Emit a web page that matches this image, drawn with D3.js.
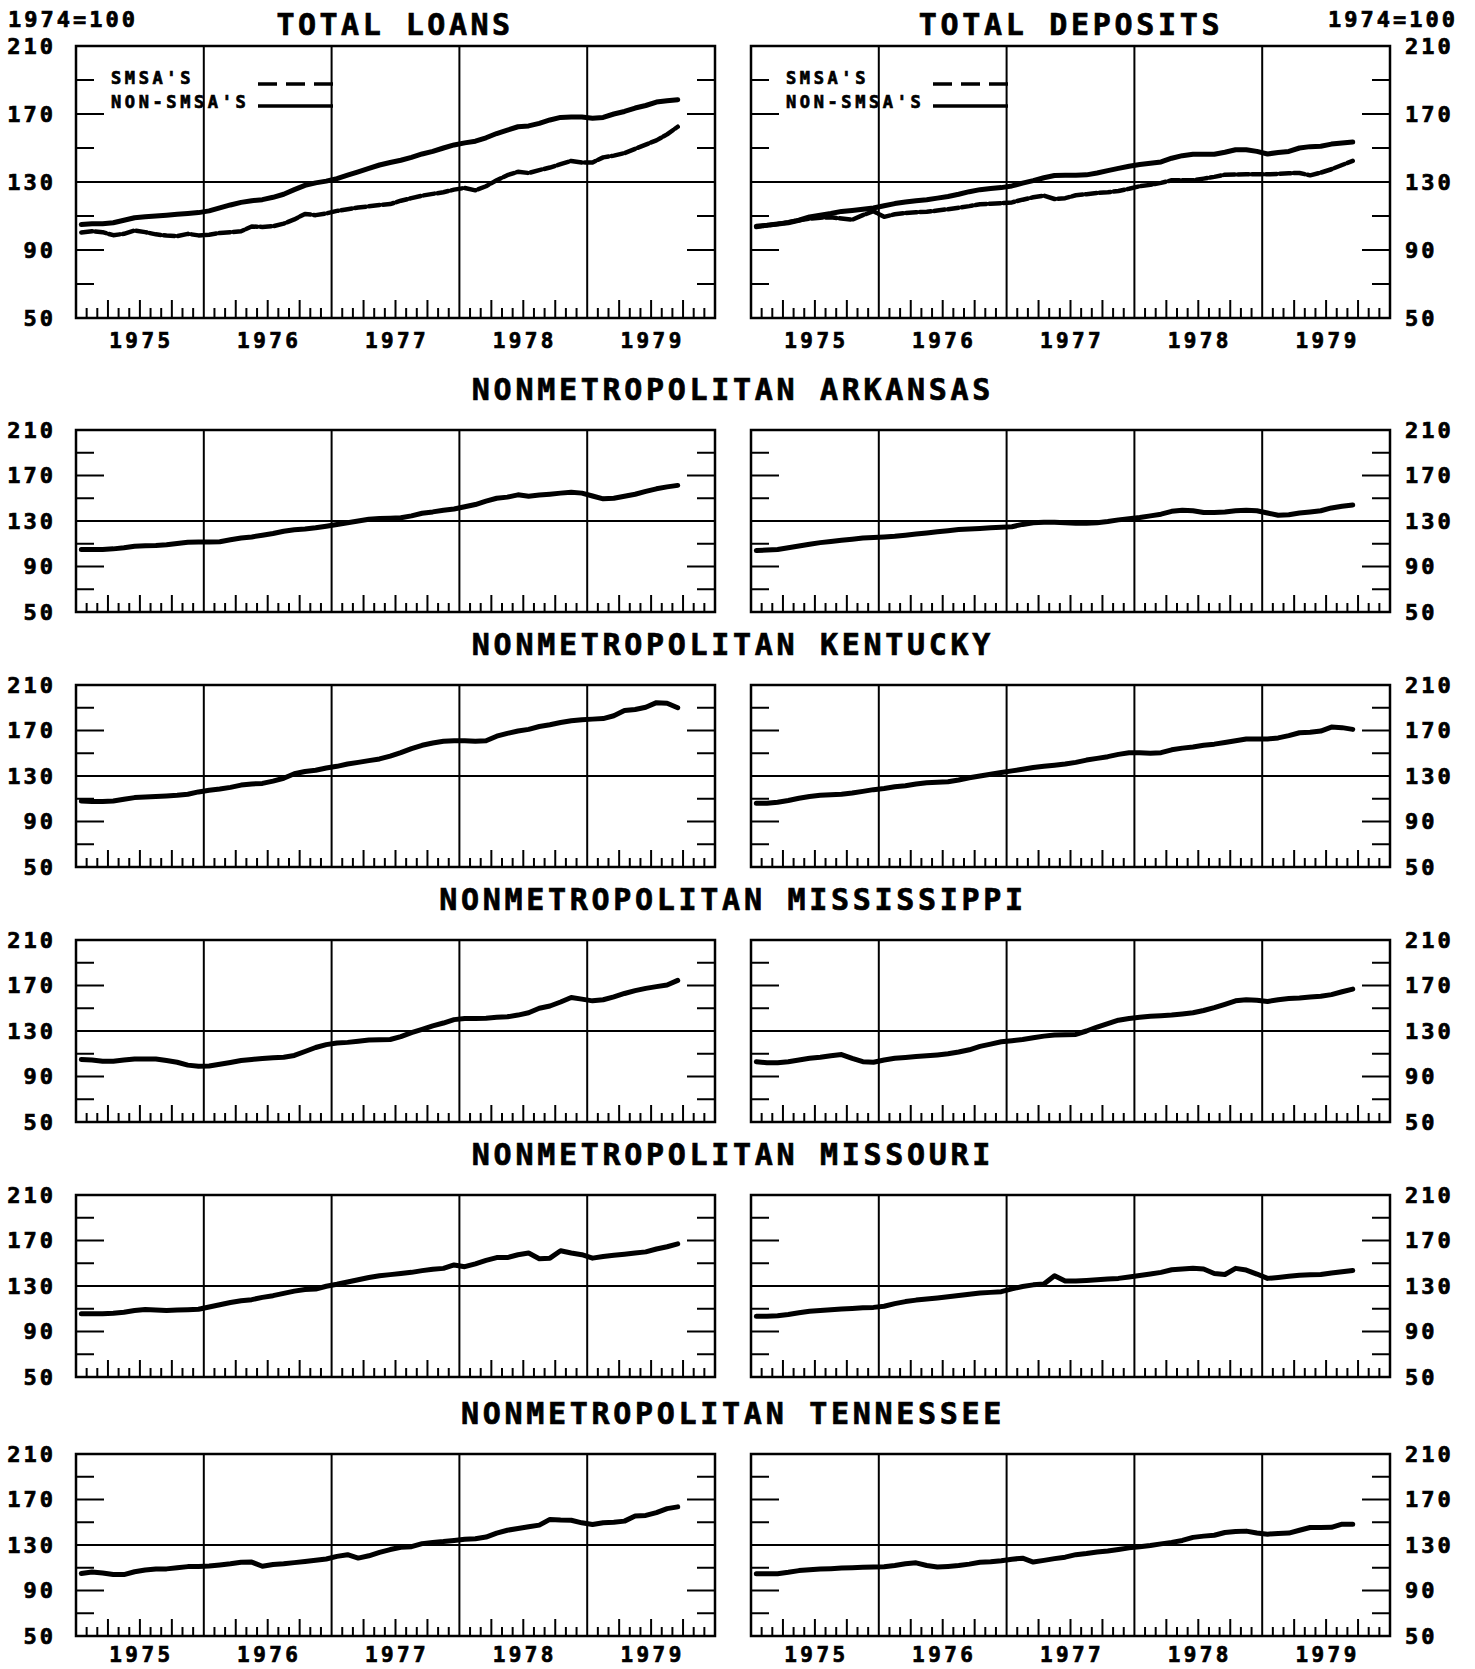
<!DOCTYPE html>
<html>
<head>
<meta charset="utf-8">
<script src="https://cdn.jsdelivr.net/npm/d3@7"></script>
<style>
  body { margin: 0; background: #fff; }
  svg text { font-family: "DejaVu Sans Mono", "Liberation Mono", monospace; font-weight: bold; fill: #000; stroke: #000; stroke-width: 0.7px; }
</style>
</head>
<body>
<svg id="chart" width="1475" height="1669"></svg>
<script>
// ---------------- DATA ----------------
const startYear = 1975;
const years = ["1975", "1976", "1977", "1978", "1979"];
const yTicks = [70, 90, 110, 150, 170, 190];
const yLabels = [50, 90, 130, 170, 210];
const yLongTicks = [90, 170];
const baseLabel = "1974=100";
const topTitles = ["TOTAL LOANS", "TOTAL DEPOSITS"];
const stateTitles = ["NONMETROPOLITAN ARKANSAS", "NONMETROPOLITAN KENTUCKY",
  "NONMETROPOLITAN MISSISSIPPI", "NONMETROPOLITAN MISSOURI", "NONMETROPOLITAN TENNESSEE"];
const legendLabels = ["SMSA'S", "NON-SMSA'S"];

// monthly index values, Jan 1975 - Sep 1979
const loansSMSA = [100.3,101,100.5,98.7,99.5,101.5,100.5,99.2,98.5,98.2,99.5,98.6,
  99,100,100.5,101,103.8,103.6,104,105.5,108,111.2,110.5,111.5,
  113,114,115,115.7,116.5,117,119,120.5,122,123,124,125.5,
  126.5,125.1,127.5,131,134,136,135.3,137,138.5,140.5,142.4,141.5,
  141.5,144.5,145.5,147,149.5,152,154.5,158,162.5];
const loansNonSMSA = [105,105.5,105.5,106,107.5,109,109.5,110,110.5,111,111.5,112,
  113,114.8,116.5,118,119,119.6,121,122.8,125.5,128,129.5,130.5,
  132,134,136,138,140,141.5,142.8,144.5,146.5,148,150,151.8,
  153,154,156,158.5,160.5,162.5,163,164.5,166.5,168,168.2,168.2,
  167.5,168,170,171.5,173.5,175,177,177.8,178.4];
const depositsSMSA = [103.5,104.5,105.3,106.3,107.5,108.4,109,109.3,108.5,107.8,110.5,112.8,
  109.5,111,111.8,112.2,112.5,113.2,114,114.9,115.8,116.9,117.2,117.5,
  118,119.6,121,122,120,120.5,122.2,122.8,123.5,124,124.7,126,
  127.5,128.3,129.5,131,131,131,132,133,134.3,134.4,134.5,134.5,
  134.5,134.8,135.2,135.3,133.9,135.5,137.5,140,142.4];
const depositsNonSMSA = [104,104.5,105.3,106,107.5,109.5,110.5,111.5,112.7,113.3,114,114.7,
  116,117.3,118.2,119,119.6,120.5,121.5,122.8,124.3,125.5,126.2,126.7,
  127.7,129.3,130.8,132.5,133.8,133.9,133.9,134.2,135.3,136.7,138,139.3,
  140.3,141,141.8,144,145.5,146.3,146.3,146.3,147.5,149,149,148,
  146.5,147.3,148,150,150.8,151,152.3,153,153.5];
const arLoans = [105,105,105,105.5,106.5,107.8,108.2,108.5,109.2,110.3,111.3,111.5,
  111.5,111.8,113.5,115,116,117.4,119,121,122.3,123,124,125.4,
  127,128.5,130,131.6,132.3,132.5,132.8,134.5,136.8,138,139.5,140.5,
  142.5,144.5,147.5,150,151,153,151.8,152.8,153.6,154.5,155.3,154.5,
  152,149.5,150,151.8,153.5,156,158.3,160,161.3];
const arDeposits = [104,104.5,105,106.5,108,109.5,111,112,113,114,115,115.5,
  116,116.5,117.5,118.5,119.5,120.5,121.5,122.5,123,123.5,124,124.5,
  125,127,128.5,129,129,128.5,128,128,128.5,129.5,131,132,
  133,134.5,136,138.5,139.5,139,137.5,137.5,138,139,139.5,139,
  137,135,135.5,137,138,139,141.5,143,144];
const kyLoans = [108,107.5,107.5,108,109.5,111,111.5,112,112.5,113,114,116,
  117.5,118.5,120,122,123,123.5,125.5,128,132,134,135,137,
  138.5,140.5,142,143.5,145,147.5,150.5,154,157,159,160.5,161,
  161,160.5,161,165,167.5,169.5,171,173.5,175,177,178.5,179.5,
  180,180.5,183,187.5,188.5,190.5,194.5,194,190];
const kyDeposits = [106,106,107,108.5,110.5,112,113,113.5,114,115,116.5,118,
  119,120.5,121.5,123,124,124.5,125,126.5,128.5,130,131.5,133,
  134.5,136,137.5,138.5,139.5,140.5,142,144,145.5,147,149,150.5,
  150.5,150,150.5,153,154.5,155.5,157,158,159.5,161,162.5,162.5,
  162.5,163.5,165.5,168,168.5,169.5,173,172.5,171];
const msLoans = [105,104.5,103.5,103.5,104.5,105.3,105.3,105.3,104,102.5,100,99,
  99.3,100.8,102.3,104,105,105.8,106.5,107,108.5,112,115.5,118,
  119.5,120,121,122,122.3,122.5,125,128.5,131.5,134.5,137,140,
  141,141,141.3,142,142.5,144,146,150,152,155.5,159.5,158,
  156.5,157.5,160,163,165.5,167.5,169,170.5,174.5];
const msDeposits = [103,102,102,103,104.5,106,107,108.3,109.3,106,103,102.5,
  104.5,106,106.8,107.5,108.2,109,110,111.5,113.5,116.5,118.5,120.5,
  121.5,122.5,124,125.5,126.5,126.8,127,130,133.5,136.5,139.5,141,
  142,143,143.5,144,145,146,148,150.5,153.5,156.5,157.5,157,
  156,157.5,158.5,159,159.8,160.5,162,164.5,166.8];
const moLoans = [105.5,105.5,105.5,106,107,108.5,109.3,109,108.5,108.8,109.2,109.5,
  111.5,113.5,115.5,117,118,120,121.5,123.5,125.5,127,127.3,129.8,
  131.5,133.5,135.5,137.5,139,140,141,142,143.5,144.8,145.5,148.5,
  147,149.5,152.5,155,155,157.5,159,154,154.5,161,159,157.5,
  154.5,156,157,158,159,160,162.5,164.5,167];
const moDeposits = [103.3,103.5,103.8,105,106.5,107.8,108.5,109.2,109.8,110.3,110.8,111.2,
  112.2,114.5,116.3,117.6,118.5,119.5,120.5,121.6,122.8,123.8,124.4,125,
  127.5,129.5,131,131.8,139,134.3,134.5,134.9,135.5,136.2,136.7,138,
  139.2,140.5,142,144.3,145,145.5,145,141,140.1,145.5,144,140.5,
  136.7,137.5,138.5,139.5,139.8,140.1,141.5,142.5,143.6];
const tnLoans = [105,106.3,105.3,104,104,106.5,108,108.8,109,110,111,111,
  111.5,112.5,113.5,114.8,115,111.3,112.8,113.5,114.5,115.5,116.5,117.7,
  120,121.5,118.5,120.5,123.5,126,128,128.5,131.2,132.3,133,134,
  135,135.5,137,140.5,143,144.5,146,147.5,152.5,152,151.8,149.5,
  148,149.5,150,151,155.4,156,158.5,162,163.5];
const tnDeposits = [104.8,104.8,104.8,106,107.5,108.2,108.8,109.2,109.7,110.1,110.4,110.6,
  110.8,112,113.5,114.3,112,110.6,111.2,112,113.2,114.9,115.3,116.2,
  117.5,118.4,115,116.5,118,119.3,121.5,122.5,123.8,124.7,126,127.5,
  128.5,129.6,131,132.3,134,136.7,137.8,138.6,141,141.8,142.2,140.5,
  139.5,140.2,140.5,143,145.4,145.4,145.5,148.3,148.3];

// ---------------- LAYOUT ----------------
const svg = d3.select("#chart");
const panelW = 639;
const colX0 = [76, 751];
const rowTop = [46, 430, 685, 940, 1195, 1454];
const rowH = [272, 182, 182, 182, 182, 182];

const rows = [
  { title: null, series: [
      [{ v: loansSMSA, dashed: true }, { v: loansNonSMSA }],
      [{ v: depositsSMSA, dashed: true }, { v: depositsNonSMSA }] ] },
  { title: stateTitles[0], series: [[{ v: arLoans }], [{ v: arDeposits }]] },
  { title: stateTitles[1], series: [[{ v: kyLoans }], [{ v: kyDeposits }]] },
  { title: stateTitles[2], series: [[{ v: msLoans }], [{ v: msDeposits }]] },
  { title: stateTitles[3], series: [[{ v: moLoans }], [{ v: moDeposits }]] },
  { title: stateTitles[4], series: [[{ v: tnLoans }], [{ v: tnDeposits }]] }
];

const monthPos = i => startYear + (i + 0.5) / 12;

function drawPanel(r, c) {
  const x0 = colX0[c], top = rowTop[r], h = rowH[r];
  const x = d3.scaleLinear().domain([startYear, startYear + 5]).range([x0, x0 + panelW]);
  const y = d3.scaleLinear().domain([50, 210]).range([top + h, top]);
  const g = svg.append("g");
  const big = r === 0;

  // year gridlines
  g.selectAll("line.yr").data(d3.range(1, 5)).join("line")
    .attr("x1", d => x(startYear + d)).attr("x2", d => x(startYear + d))
    .attr("y1", y(210)).attr("y2", y(50))
    .attr("stroke", "#000").attr("stroke-width", 2);
  // 130 line
  g.append("line").attr("x1", x.range()[0]).attr("x2", x.range()[1])
    .attr("y1", y(130)).attr("y2", y(130)).attr("stroke", "#000").attr("stroke-width", 2);
  // month ticks
  const months = d3.range(1, 60).filter(k => k % 12 !== 0);
  g.selectAll("line.mt").data(months).join("line")
    .attr("x1", k => x(startYear + k / 12)).attr("x2", k => x(startYear + k / 12))
    .attr("y1", y(50)).attr("y2", k => y(50) - (k % 3 === 0 ? (big ? 18 : 17) : (big ? 10 : 9)))
    .attr("stroke", "#000").attr("stroke-width", 2);
  // side ticks (both sides, inward)
  [0, 1].forEach(side => {
    const edge = side === 0 ? x.range()[0] : x.range()[1];
    const dir = side === 0 ? 1 : -1;
    g.selectAll("line.st" + side).data(yTicks).join("line")
      .attr("x1", edge).attr("x2", v => edge + dir * (yLongTicks.includes(v) ? 28 : 18))
      .attr("y1", v => y(v)).attr("y2", v => y(v))
      .attr("stroke", "#000").attr("stroke-width", 2);
  });
  // box
  g.append("rect").attr("x", x0).attr("y", top).attr("width", panelW).attr("height", h)
    .attr("fill", "none").attr("stroke", "#000").attr("stroke-width", 2.5);

  // y labels
  g.selectAll("text.yl").data(yLabels).join("text")
    .attr("x", c === 0 ? x0 - 20 : x0 + panelW + 15)
    .attr("y", v => y(v)).attr("dy", "0.36em")
    .attr("text-anchor", c === 0 ? "end" : "start")
    .style("font-size", "22px").style("letter-spacing", "3px")
    .text(d => d);

  // year labels
  if (r === 0 || r === rows.length - 1) {
    g.selectAll("text.xl").data(years).join("text")
      .attr("x", (d, i) => x(startYear + i + 0.5) + 1.5)
      .attr("y", r === 0 ? y(50) + 30 : y(50) + 26)
      .attr("text-anchor", "middle")
      .style("font-size", "21px").style("letter-spacing", "3.4px")
      .text(d => d);
  }

  // data lines
  const line = d3.line().x((d, i) => x(monthPos(i))).y(d => y(d));
  rows[r].series[c].forEach(s => {
    g.append("path").datum(s.v).attr("d", line)
      .attr("fill", "none").attr("stroke", "#000")
      .attr("stroke-width", s.dashed ? 4.5 : 5)
      .attr("stroke-linejoin", "round").attr("stroke-linecap", "round")
      .attr("stroke-dasharray", s.dashed ? "11,3" : null);
  });

  // legend in top panels
  if (r === 0) {
    const lx = x0 + 35, sx0 = x0 + 182, sx1 = x0 + 257;
    g.append("text").attr("x", lx).attr("y", 84)
      .style("font-size", "17px").style("letter-spacing", "3.6px").text(legendLabels[0]);
    g.append("text").attr("x", lx).attr("y", 108)
      .style("font-size", "17px").style("letter-spacing", "3.6px").text(legendLabels[1]);
    g.append("line").attr("x1", sx0).attr("x2", sx1).attr("y1", 84).attr("y2", 84)
      .attr("stroke", "#000").attr("stroke-width", 3.5).attr("stroke-dasharray", "19,9");
    g.append("line").attr("x1", sx0).attr("x2", sx1).attr("y1", 106).attr("y2", 106)
      .attr("stroke", "#000").attr("stroke-width", 3.5);
  }
}

rows.forEach((row, r) => {
  drawPanel(r, 0);
  drawPanel(r, 1);
  if (row.title) {
    svg.append("text").attr("x", 733).attr("y", rowTop[r] - 30)
      .attr("text-anchor", "middle")
      .style("font-size", "30px").style("letter-spacing", "3.7px")
      .text(row.title);
  }
});

// top titles and base labels
svg.append("text").attr("x", 395).attr("y", 35).attr("text-anchor", "middle")
  .style("font-size", "30px").style("letter-spacing", "3.5px").text(topTitles[0]);
svg.append("text").attr("x", 1071).attr("y", 35).attr("text-anchor", "middle")
  .style("font-size", "30px").style("letter-spacing", "3.7px").text(topTitles[1]);
svg.append("text").attr("x", 8).attr("y", 27)
  .style("font-size", "22px").style("letter-spacing", "3px").text(baseLabel);
svg.append("text").attr("x", 1328).attr("y", 27)
  .style("font-size", "22px").style("letter-spacing", "3px").text(baseLabel);
</script>
</body>
</html>
